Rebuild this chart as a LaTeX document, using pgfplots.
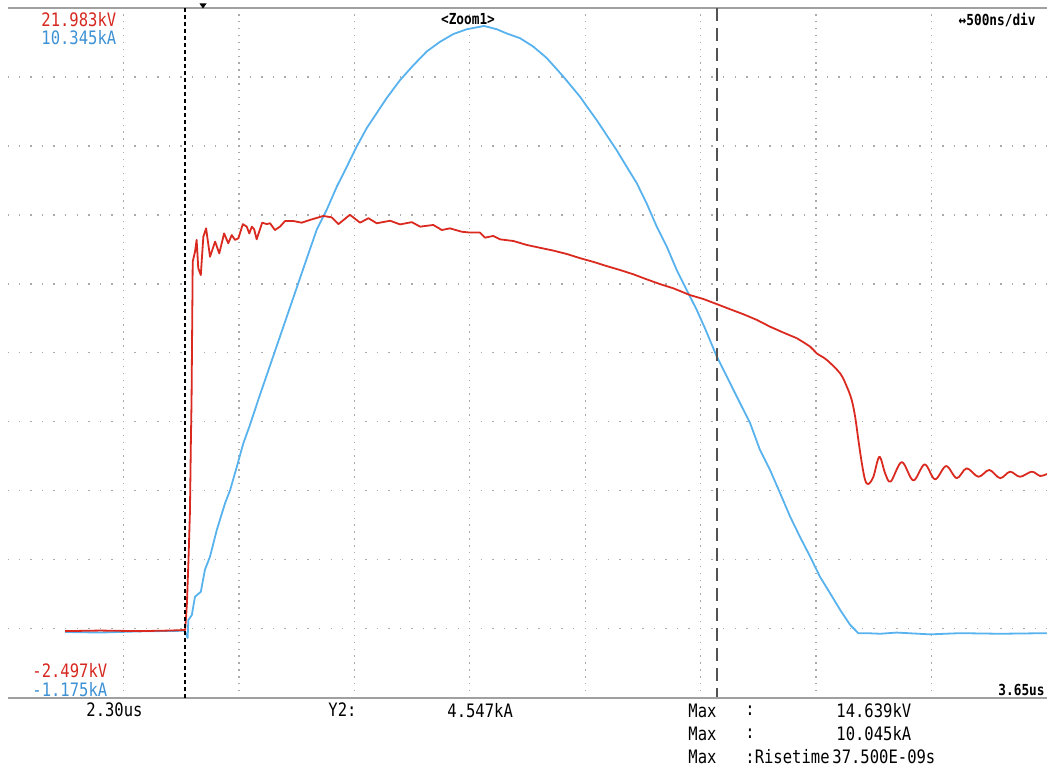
\documentclass[border=0pt]{standalone}
\usepackage{pgfplots}
\pgfplotsset{compat=1.18}
\usepackage{fontspec}
\setmainfont{DejaVu Sans Mono}[FakeStretch=0.84]
\definecolor{scred}{RGB}{218,42,32}
\definecolor{scblue}{RGB}{88,178,238}
\definecolor{txtred}{RGB}{214,40,32}
\definecolor{txtblue}{RGB}{62,145,212}
\definecolor{gridc}{RGB}{170,170,170}
\definecolor{framec}{RGB}{160,160,160}
\newcommand\ft{\fontsize{9.25pt}{11pt}\selectfont}
\newcommand\fs{\fontsize{7.6pt}{9pt}\selectfont\bfseries}
\begin{document}
\begin{tikzpicture}
\useasboundingbox (0,0) rectangle (523.5pt,383.5pt);
\pgfplotsset{scopeaxis/.style={at={(4pt,34.75pt)}, anchor=south west, scale only axis,
  width=519.5pt, height=344.75pt, xmin=0, xmax=4.5}}
% grid (divisions)
\begin{axis}[scopeaxis, ymin=0, ymax=10, axis line style={draw=none}, tick style={draw=none},
  xtick={0.5,1,...,4}, ytick={1,...,9}, xticklabels={}, yticklabels={},
  tick label style={text opacity=0},
  xmajorgrids, ymajorgrids,
  x grid style={gridc, line width=0.7pt, dash pattern=on 0.7pt off 2.7475pt, dash phase=0.35pt},
  y grid style={gridc, line width=0.7pt, dash pattern=on 0.7pt off 5.072pt, dash phase=0.35pt}]
\end{axis}
% current (kA)
\begin{axis}[scopeaxis, ymin=-1.175, ymax=10.345, hide axis]
\addplot[scblue, line width=0.9pt, line join=round] coordinates {
(0.247,-0.08) (0.399,-0.09) (0.572,-0.07) (0.762,-0.06) (0.771,-0.11) (0.778,-0.18)
(0.781,0.12) (0.796,0.20) (0.810,0.51) (0.835,0.59) (0.853,0.96) (0.875,1.18) (0.904,1.62)
(0.940,2.07) (0.962,2.29) (0.991,2.68) (1.019,3.07) (1.048,3.38) (1.084,3.80) (1.189,4.98)
(1.294,6.16) (1.337,6.64) (1.380,6.97) (1.424,7.36) (1.467,7.69) (1.510,8.03) (1.554,8.34)
(1.597,8.59) (1.640,8.84) (1.698,9.14) (1.756,9.39) (1.814,9.62) (1.871,9.78) (1.929,9.91)
(1.987,9.99) (2.062,10.045) (2.117,9.99) (2.160,9.92) (2.218,9.84) (2.275,9.70) (2.333,9.51)
(2.405,9.20) (2.478,8.86) (2.507,8.70) (2.550,8.47) (2.593,8.22) (2.636,7.97) (2.680,7.69)
(2.723,7.42) (2.766,7.08) (2.810,6.69) (2.853,6.36) (2.896,5.97) (2.940,5.63) (2.983,5.30)
(3.019,4.99) (3.070,4.52) (3.127,4.08) (3.171,3.74) (3.214,3.41) (3.257,2.96) (3.300,2.63)
(3.344,2.24) (3.387,1.85) (3.430,1.51) (3.474,1.18) (3.517,0.84) (3.560,0.57) (3.604,0.29)
(3.647,0.04) (3.683,-0.10) (3.719,-0.10) (3.777,-0.11) (3.849,-0.09) (3.993,-0.12)
(4.123,-0.10) (4.297,-0.11) (4.5,-0.10)};
\end{axis}
% voltage (kV)
\begin{axis}[scopeaxis, ymin=-2.497, ymax=21.983, hide axis]
\addplot[scred, line width=0.9pt, line join=round] coordinates {
(0.247,-0.14) (0.399,-0.12) (0.572,-0.14) (0.700,-0.12) (0.767,-0.10) (0.771,0.33)
(0.775,0.86) (0.782,2.46) (0.788,4.09) (0.792,6.54) (0.795,8.07) (0.798,10.98) (0.800,12.98)
(0.810,13.33) (0.817,13.75) (0.824,12.75) (0.835,12.50) (0.846,13.86) (0.858,14.16)
(0.875,13.15) (0.897,13.69) (0.915,13.27) (0.936,13.98) (0.954,13.63) (0.969,13.92)
(0.983,13.75) (0.998,13.81) (1.017,14.31) (1.034,14.22) (1.045,13.98) (1.056,14.22)
(1.066,14.13) (1.077,13.77) (1.101,14.36) (1.121,14.31) (1.135,14.34) (1.156,14.10)
(1.178,14.22) (1.200,14.42) (1.236,14.42) (1.272,14.36) (1.308,14.46) (1.366,14.60)
(1.402,14.55) (1.431,14.31) (1.481,14.64) (1.525,14.36) (1.561,14.52) (1.597,14.34)
(1.655,14.43) (1.698,14.30) (1.749,14.38) (1.785,14.22) (1.842,14.28) (1.879,14.10)
(1.914,14.16) (1.965,14.04) (2.001,14.01) (2.044,14.01) (2.066,13.83) (2.102,13.89)
(2.131,13.77) (2.189,13.71) (2.247,13.57) (2.304,13.47) (2.362,13.37) (2.420,13.25)
(2.478,13.10) (2.535,12.97) (2.593,12.82) (2.651,12.68) (2.708,12.53) (2.766,12.35)
(2.824,12.18) (2.882,12.03) (2.954,11.79) (3.012,11.65) (3.070,11.47) (3.127,11.29)
(3.185,11.11) (3.243,10.91) (3.300,10.67) (3.358,10.46) (3.416,10.26)};
\addplot[scred, line width=0.9pt, line join=round, smooth, tension=0.55] coordinates {
(3.416,10.26) (3.474,9.96) (3.503,9.72) (3.546,9.49) (3.604,9.01) (3.633,8.54) (3.654,8.07)
(3.669,7.47) (3.683,6.65) (3.698,5.82) (3.712,5.23) (3.726,5.08) (3.748,5.34) (3.774,6.05)
(3.799,5.46) (3.823,5.17) (3.871,5.86) (3.921,5.21) (3.970,5.78) (4.015,5.25) (4.063,5.72)
(4.109,5.29) (4.152,5.64) (4.203,5.34) (4.250,5.58) (4.297,5.29) (4.340,5.52) (4.383,5.34)
(4.434,5.52) (4.470,5.37) (4.5,5.44)};
\end{axis}
\begin{scope}[yshift=383.5pt, x=0.5pt, y=-0.5pt]
\draw[framec, line width=1pt] (8,8) -- (1047,8);
\draw[framec, line width=1pt] (8,697.5) -- (1047,697.5);
\draw[black, line width=0.7pt, dash pattern=on 1.9pt off 1.6pt] (185,8) -- (185,700);
\draw[black!68, line width=1pt, dash pattern=on 6.5pt off 3.5pt] (717,8) -- (717,697);
\fill[black] (199.5,3.5) -- (206.5,3.5) -- (203,8.5) -- cycle;
\node[anchor=west, inner sep=0, text=txtred, font=\ft] at (41,20) {21.983kV};
\node[anchor=west, inner sep=0, text=txtblue, font=\ft] at (41,38) {10.345kA};
\node[anchor=west, inner sep=0, text=txtred, font=\ft] at (32,671) {-2.497kV};
\node[anchor=west, inner sep=0, text=txtblue, font=\ft] at (32,689.5) {-1.175kA};
\node[anchor=east, inner sep=0, font=\fs] at (1036,20) {↔500ns/div};
\node[anchor=center, inner sep=0, font=\fs] at (468,19) {<Zoom1>};
\node[anchor=east, inner sep=0, font=\fs] at (1045,690) {3.65us};
\node[anchor=west, inner sep=0, font=\ft] at (86,710) {2.30us};
\node[anchor=west, inner sep=0, font=\ft] at (328,710) {Y2:};
\node[anchor=west, inner sep=0, font=\ft] at (447,711) {4.547kA};
\node[anchor=west, inner sep=0, font=\ft] at (688,711) {Max};
\node[anchor=west, inner sep=0, font=\ft] at (688,734) {Max};
\node[anchor=west, inner sep=0, font=\ft] at (688,757) {Max};
\node[anchor=west, inner sep=0, font=\ft] at (745,711) {:};
\node[anchor=west, inner sep=0, font=\ft] at (745,734) {:};
\node[anchor=west, inner sep=0, font=\ft] at (745,757) {:Risetime};
\node[anchor=west, inner sep=0, font=\ft] at (836,711) {14.639kV};
\node[anchor=west, inner sep=0, font=\ft] at (836,734) {10.045kA};
\node[anchor=west, inner sep=0, font=\ft] at (832,757) {37.500E-09s};
\end{scope}
\end{tikzpicture}
\end{document}
